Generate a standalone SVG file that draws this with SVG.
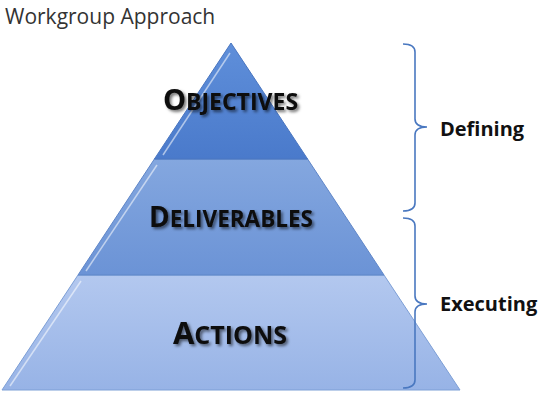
<svg xmlns="http://www.w3.org/2000/svg" width="540" height="403" viewBox="0 0 540 403">
  <style>
    .title { font-family: "Open Sans", "Liberation Sans", sans-serif; font-size: 21px; fill: #333333; }
    .tier { font-family: "Open Sans", "Liberation Sans", sans-serif; font-weight: bold; fill: #0a0a0a; text-anchor: middle; filter: url(#shadow); }
    .side { font-family: "Open Sans", "Liberation Sans", sans-serif; font-weight: bold; font-size: 20px; fill: #111111; }
    .brace { fill: none; stroke: #4a78c0; stroke-width: 1.6; }
    .edge { fill: none; stroke: #ffffff; stroke-opacity: 0.55; stroke-width: 1.5; }
  </style>
  <defs>
    <linearGradient id="g1" x1="0" y1="0" x2="0" y2="1">
      <stop offset="0" stop-color="#5f8fda"/>
      <stop offset="1" stop-color="#4a7acb"/>
    </linearGradient>
    <linearGradient id="g2" x1="0" y1="0" x2="0" y2="1">
      <stop offset="0" stop-color="#84a7df"/>
      <stop offset="1" stop-color="#6b93d6"/>
    </linearGradient>
    <linearGradient id="g3" x1="0" y1="0" x2="0" y2="1">
      <stop offset="0" stop-color="#b3c8ef"/>
      <stop offset="1" stop-color="#97b3e6"/>
    </linearGradient>
    <filter id="shadow" x="-10%" y="-20%" width="130%" height="160%">
      <feDropShadow dx="2" dy="2" stdDeviation="1.6" flood-color="#000000" flood-opacity="0.55"/>
    </filter>
  </defs>

  <text class="title" x="5" y="24">Workgroup Approach</text>

  <g id="tier-actions">
    <polygon points="78,275 384,275 460,390 2,390" fill="url(#g3)" stroke="#7d9fd6" stroke-width="1"/>
    <line class="edge" x1="81" y1="281" x2="10" y2="386"/>
    <text class="tier" x="230" y="344"><tspan font-size="31">A</tspan><tspan font-size="25">CTIONS</tspan></text>
  </g>

  <g id="tier-deliverables">
    <polygon points="154.4,159 307.6,159 384,275 78,275" fill="url(#g2)" stroke="#5f86c8" stroke-width="1"/>
    <line class="edge" x1="157" y1="165" x2="86" y2="271"/>
    <text class="tier" x="231" y="227"><tspan font-size="28">D</tspan><tspan font-size="22.5">ELIVERABLES</tspan></text>
  </g>

  <g id="tier-objectives">
    <polygon points="231,43 307.6,159 154.4,159" fill="url(#g1)" stroke="#4a76c0" stroke-width="1"/>
    <line class="edge" x1="230" y1="53" x2="163" y2="155"/>
    <text class="tier" x="230.5" y="110"><tspan font-size="29">O</tspan><tspan font-size="23">BJECTIVES</tspan></text>
  </g>

  <g id="connectors">
    <path class="brace" d="M403,44 Q415,44 415,52 L415,119 Q415,127 427,127 Q415,127 415,135 L415,203 Q415,211 403,211"/>
    <path class="brace" d="M403,218 Q415,218 415,226 L415,296 Q415,304 427,304 Q415,304 415,312 L415,380 Q415,388 403,388"/>
  </g>

  <g id="label-defining">
    <text class="side" x="440" y="135.5">Defining</text>
  </g>
  <g id="label-executing">
    <text class="side" x="440" y="311">Executing</text>
  </g>
</svg>
